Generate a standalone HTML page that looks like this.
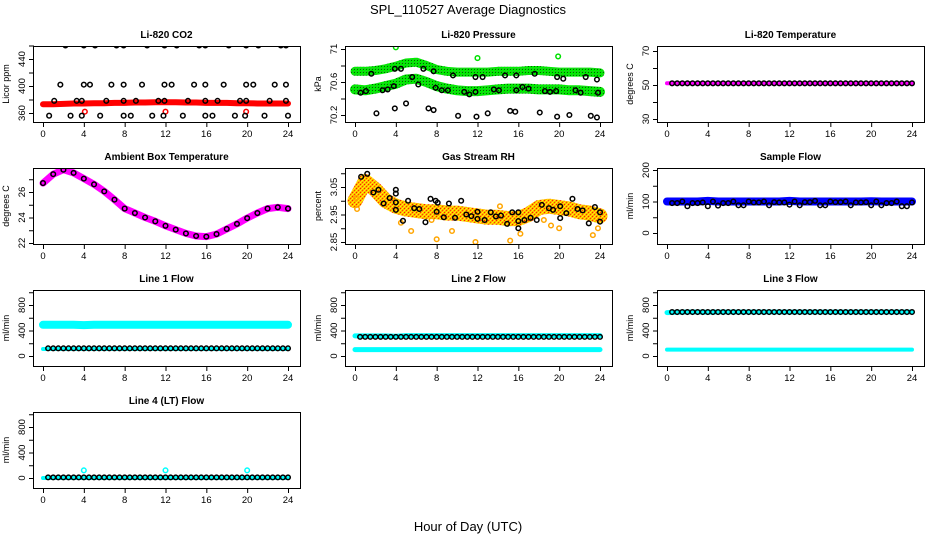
<!DOCTYPE html>
<html><head><meta charset="utf-8">
<style>
html,body{margin:0;padding:0;background:#fff;}
svg{display:block;font-family:"Liberation Sans",sans-serif;}
</style></head>
<body>
<svg id="chart" width="936" height="540" viewBox="0 0 936 540">
<defs>
<pattern id="rhpat" width="4" height="4" patternUnits="userSpaceOnUse">
<rect width="4" height="4" fill="#ffb000"/>
<rect x="0" y="0" width="1" height="1" fill="#ff2000"/>
<rect x="2" y="2" width="1" height="1" fill="#ff4000"/>
<rect x="2" y="0" width="1" height="1" fill="#ffff00"/>
<rect x="0" y="2" width="1" height="1" fill="#ffff00"/>
<rect x="1" y="1" width="1" height="1" fill="#ffe000"/>
<rect x="3" y="3" width="1" height="1" fill="#ffe000"/>
</pattern>
<pattern id="grpat" width="3" height="3" patternUnits="userSpaceOnUse">
<rect width="3" height="3" fill="#00ee00"/>
<rect x="0" y="0" width="1" height="1" fill="#006000"/>
<rect x="2" y="2" width="1" height="1" fill="#40a040"/>
</pattern>
</defs>
<text x="468" y="14" text-anchor="middle" font-size="13">SPL_110527  Average Diagnostics</text>
<text x="468" y="531" text-anchor="middle" font-size="13">Hour of Day (UTC)</text>
</svg>
<script>
// ---------- data ----------
const hoursH = [0,1,2,3,4,5,6,7,8,9,10,11,12,13,14,15,16,17,18,19,20,21,22,23,24];
const hoursHalf = [0.5,1,1.5,2,2.5,3,3.5,4,4.5,5,5.5,6,6.5,7,7.5,8,8.5,9,9.5,10,10.5,11,11.5,12,12.5,13,13.5,14,14.5,15,15.5,16,16.5,17,17.5,18,18.5,19,19.5,20,20.5,21,21.5,22,22.5,23,23.5,24];
const xTicks = [0,4,8,12,16,20,24];

// Li-820 CO2
const co2Band = [373,373,373.5,374,374,374.5,374.5,375,375,375.5,375.5,376,376,376,375.5,375.5,375,375,375,374.5,374.5,374,374,374,374];
const co2BlackHours = [2.2,4.0,5.1,7.2,7.9,10.2,11.9,13.1,15.3,15.9,18.2,19.9,21.1,23.3,23.8, 1.7,4.0,4.6,6.7,7.9,9.7,11.9,12.6,14.8,15.9,17.7,19.9,20.6,22.7,23.8, 1.1,3.3,3.8,6.2,7.9,9.1,11.3,11.9,14.2,15.9,17.1,19.3,19.9,22.2,23.8, 0.6,2.7,3.8,5.6,7.9,8.6,10.7,11.8,13.7,15.9,16.6,18.8,19.8,21.7,24];
const co2BlackVals = [460,460,460,460,460,460,460,460,460,460,460,460,460,460,460, 402,402,402,402,402,402,402,402,402,402,402,402,402,402,402, 378,378,378,378,378,378,378,378,378,378,378,378,378,378,378, 356,356,356,356,356,356,356,356,356,356,356,356,356,356,356];
const co2RedHours = [4.1,12.0,19.9];
const co2RedVals = [362,362,362];

// Li-820 Pressure
const presUpper = [70.73,70.73,70.74,70.76,70.79,70.83,70.84,70.8,70.75,70.73,70.72,70.72,70.72,70.72,70.73,70.73,70.73,70.74,70.74,70.73,70.72,70.72,70.72,70.72,70.71];
const presLower = [70.51,70.5,70.52,70.55,70.58,70.63,70.64,70.6,70.55,70.52,70.5,70.49,70.49,70.5,70.51,70.52,70.52,70.52,70.51,70.51,70.51,70.5,70.5,70.49,70.48];
const presBlackHours = [0.55,1.07,1.6,2.1,2.7,3.2,3.8,3.9,3.9,4.5,5.0,5.6,6.2,6.7,7.2,7.7,7.7,7.9,8.5,9.1,9.6,10.1,10.7,11.2,11.8,11.8,11.9,12.5,13.0,13.6,14.1,14.7,15.2,15.7,15.8,15.8,16.4,17.0,17.6,18.1,18.6,19.1,19.7,19.8,19.8,20.4,21.0,21.6,22.1,22.6,23.1,23.7,23.7,23.8];
const presBlackVals = [70.47,70.49,70.7,70.22,70.5,70.51,70.55,70.76,70.28,70.76,70.34,70.66,70.57,70.76,70.28,70.73,70.26,70.53,70.5,70.5,70.68,70.19,70.48,70.45,70.48,70.66,70.18,70.66,70.22,70.51,70.5,70.68,70.25,70.24,70.68,70.5,70.54,70.52,70.7,70.23,70.49,70.48,70.49,70.18,70.66,70.64,70.2,70.5,70.47,70.66,70.19,70.17,70.63,70.47];
const presGreenHours = [4.0,12.0,19.9];
const presGreenVals = [71.02,70.89,70.91];

// Li-820 Temperature
const tempBand = [51,51,51,51,51,51,51,51,51,51,51,51,51,51,51,51,51,51,51,51,51,51,51,51,51];
const tempBlack = [51,51,51,51,51,51,51,51,51,51,51,51,51,51,51,51,51,51,51,51,51,51,51,51,51,51,51,51,51,51,51,51,51,51,51,51,51,51,51,51,51,51,51,51,51,51,51,51];

// Ambient box temperature
const ambBand = [26.7,27.4,27.75,27.5,27.05,26.6,26.05,25.4,24.7,24.35,24.0,23.7,23.35,23.05,22.75,22.55,22.5,22.7,23.1,23.5,23.95,24.35,24.7,24.8,24.7];

// Gas stream RH
const rhBand = [3.0,3.07,3.04,3.0,2.98,2.97,2.965,2.96,2.96,2.955,2.955,2.95,2.945,2.94,2.94,2.935,2.935,2.95,2.975,2.98,2.975,2.97,2.96,2.955,2.945];
const rhBlackHours = [0.6,1.2,1.8,2.3,2.8,3.4,4.0,4.0,4.0,4.0,4.7,5.2,5.8,6.3,6.9,7.4,7.9,8.1,8.0,8.7,9.2,9.8,10.4,10.9,11.4,12.0,12.0,12.7,13.3,13.8,14.3,14.9,15.4,16.0,16.0,16.0,16.6,17.2,17.8,18.3,19.0,19.4,20.1,20.1,20.7,21.3,21.8,22.3,22.9,23.5,24,24];
const rhBlackVals = [3.087,3.098,3.03,3.04,2.99,3.01,2.994,3.04,3.026,2.967,2.927,3.0,2.973,2.97,2.922,3.007,3.0,2.993,2.96,2.94,2.99,2.938,3.0,2.95,2.944,2.96,2.934,2.93,2.958,2.943,2.946,2.916,2.958,2.958,2.926,2.9,2.93,2.938,2.93,2.985,2.973,2.967,2.98,2.937,2.955,3.007,2.97,2.965,2.918,2.977,2.958,2.924];
const rhOutHours = [0.2,0.1,4.5,5.5,7.5,8.0,9.5,11.8,14.2,15.2,16.2,18.5,19.2,20.0,23.3,23.8];
const rhOutVals = [2.97,3.01,2.92,2.89,2.93,2.86,2.89,2.85,2.98,2.855,2.88,2.93,2.91,2.9,2.875,2.9];

// Sample flow
const sampleBand = [100,100,100,100,102,100,100,100,100,100,100,100,102,100,100,100,100,100,100,100,101,100,100,100,100];
const sampleBlack = [95,95,100,85,95,95,97,85,100,87,95,95,100,88,88,100,97,97,100,88,98,97,97,90,100,88,98,98,102,88,88,100,98,98,100,88,97,97,98,88,100,88,95,95,100,85,85,97];

// Line flows
const line1High = [490,490,490,490,485,490,490,490,490,490,490,490,490,490,490,490,490,490,490,490,490,490,490,490,490];
const line1Low = [110,110,110,110,110,110,110,110,110,110,110,110,110,110,110,110,110,110,110,110,110,110,110,110,110];
const line1Black = [120,120,120,120,120,120,120,120,120,120,120,120,120,120,120,120,120,120,120,120,120,120,120,120,120,120,120,120,120,120,120,120,120,120,120,120,120,120,120,120,120,120,120,120,120,120,120,120];
const line2High = [315,315,315,315,310,320,320,320,320,320,320,320,320,320,320,320,320,320,320,320,320,320,320,320,320];
const line2Low = [100,100,100,100,100,100,100,100,100,100,100,100,100,100,100,100,100,100,100,100,100,100,100,100,100];
const line2Black = [300,300,300,300,300,300,300,300,300,300,300,300,300,300,300,300,300,300,300,300,300,300,300,300,300,300,300,300,300,300,300,300,300,300,300,300,300,300,300,300,300,300,300,300,300,300,300,300];
const line3High = [680,685,690,690,685,690,690,690,690,690,690,690,690,690,690,690,690,690,690,690,690,690,690,690,690];
const line3Low = [100,100,100,100,100,100,100,100,100,100,100,100,100,100,100,100,100,100,100,100,100,100,100,100,100];
const line3Black = [690,690,690,690,690,690,690,690,690,690,690,690,690,690,690,690,690,690,690,690,690,690,690,690,690,690,690,690,690,690,690,690,690,690,690,690,690,690,690,690,690,690,690,690,690,690,690,690];
const line4Band = [0,0,0,0,0,0,0,0,0,0,0,0,0,0,0,0,0,0,0,0,0,0,0,0,0];
const line4Black = [10,10,10,10,10,10,10,10,10,10,10,10,10,10,10,10,10,10,10,10,10,10,10,10,10,10,10,10,10,10,10,10,10,10,10,10,10,10,10,10,10,10,10,10,10,10,10,10];
const line4OutHours = [4,12,20];
const line4OutVals = [120,120,120];

// ---------- drawing ----------
const svg = document.getElementById('chart');
const NS = 'http://www.w3.org/2000/svg';
function mk(tag, attrs, parent){
  const e = document.createElementNS(NS, tag);
  for (const k in attrs) e.setAttribute(k, attrs[k]);
  (parent||svg).appendChild(e);
  return e;
}
function panel(name, title, col, row, v1, o1, v2, o2, yTicks, yLabels, yTitle){
  const left = 33 + 312*col, top = 46 + 122*row, w = 267, h = 76;
  const g = mk('g', {});
  
  
  const p = {g, left, top, w, h,
    x: t => left + 10 + t*(245/24),
    y: v => top + o1 + (v - v1)*(o2 - o1)/(v2 - v1)};
  const clip = mk('clipPath', {id:'clip-'+name}, g);
  mk('rect', {x:left, y:top, width:w, height:h}, clip);
  p.plot = mk('g', {'clip-path':'url(#clip-'+name+')'}, g);
  
  
  const box = mk('rect', {x:left+0.5, y:top+0.5, width:w, height:h, fill:'none', stroke:'#000', 'stroke-width':1}, g);
  
  
  const tt = mk('text', {x:left+w/2, y:top-8, 'text-anchor':'middle', 'font-size':10, 'font-weight':'bold'}, g);
  tt.textContent = title;
  
  
  const xa = mk('g', {}, g);
  
  
  mk('line', {x1:p.x(0), x2:p.x(24), y1:top+h+0.5, y2:top+h+0.5, stroke:'#000'}, xa);
  xTicks.forEach(t => {
    mk('line', {x1:p.x(t)+0.5, x2:p.x(t)+0.5, y1:top+h, y2:top+h+5, stroke:'#000'}, xa);
    const l = mk('text', {x:p.x(t), y:top+h+15, 'text-anchor':'middle', 'font-size':9.5}, xa);
    l.textContent = t;
  });
  const ya = mk('g', {}, g);
  
  
  mk('line', {x1:left+0.5, x2:left+0.5, y1:p.y(yTicks[0]), y2:p.y(yTicks[yTicks.length-1]), stroke:'#000'}, ya);
  yTicks.forEach(t => {
    mk('line', {x1:left-4, x2:left, y1:p.y(t)+0.5, y2:p.y(t)+0.5, stroke:'#000'}, ya);
  });
  yLabels.forEach(t => {
    const yy = p.y(t);
    const l = mk('text', {x:left-8, y:yy, 'text-anchor':'middle', 'font-size':9.5, transform:'rotate(-90 '+(left-8)+' '+yy+')'}, ya);
    l.textContent = t;
  });
  const yt = mk('text', {x:left-24, y:top+h/2, 'text-anchor':'middle', 'font-size':9, transform:'rotate(-90 '+(left-24)+' '+(top+h/2)+')'}, g);
  yt.textContent = yTitle;
  
  
  return p;
}
function band(p, hrs, vals, color, width, name){
  const pts = hrs.map((t,i) => p.x(t).toFixed(1)+','+p.y(vals[i]).toFixed(1)).join(' ');
  const l = mk('polyline', {points:pts, fill:'none', stroke:color, 'stroke-width':width, 'stroke-linejoin':'round', 'stroke-linecap':'round'}, p.plot);
  
  
}
function circles(p, hrs, vals, color, name){
  const g = mk('g', {}, p.plot);
  
  
  hrs.forEach((t,i) => {
    mk('circle', {cx:p.x(t), cy:p.y(vals[i]), r:2.3, fill:'none', stroke:color, 'stroke-width':1.5}, g);
  });
}

let p = panel('co2', 'Li-820 CO2', 0, 0, 360, 67, 440, 13, [360,380,400,420,440,460], [360,400,440], 'Licor ppm');
band(p, hoursH, co2Band, '#ff0000', 6, 'co2-red-band');
circles(p, co2RedHours, co2RedVals, '#ff0000', 'co2-red-points');
circles(p, co2BlackHours, co2BlackVals, '#000', 'co2-black-points');

p = panel('pressure', 'Li-820 Pressure', 1, 0, 70.2, 69, 71.0, 3, [70.2,70.4,70.6,70.8,71.0], [70.2,70.6,71.0], 'kPa');
band(p, hoursH, presUpper, 'url(#grpat)', 9, 'pressure-upper-band');
band(p, hoursH, presLower, 'url(#grpat)', 10, 'pressure-lower-band');
circles(p, presGreenHours, presGreenVals, '#00e000', 'pressure-green-points');
circles(p, presBlackHours, presBlackVals, '#000', 'pressure-black-points');

p = panel('li-temp', 'Li-820 Temperature', 2, 0, 30, 73, 70, 5, [30,40,50,60,70], [30,50,70], 'degrees C');
band(p, hoursH, tempBand, '#ff00ff', 4, 'li-temp-band');
circles(p, hoursHalf, tempBlack, '#000', 'li-temp-black-points');

p = panel('ambient', 'Ambient Box Temperature', 0, 1, 22, 75, 26, 24, [22,23,24,25,26,27], [22,24,26], 'degrees C');
band(p, hoursH, ambBand, '#ff00ff', 7, 'ambient-band');
circles(p, hoursH, ambBand, '#000', 'ambient-black-points');

p = panel('rh', 'Gas Stream RH', 1, 1, 2.85, 74, 3.05, 19, [2.85,2.9,2.95,3.0,3.05,3.1], [2.85,2.95,3.05], 'percent');
band(p, hoursH, rhBand, 'url(#rhpat)', 15, 'rh-band');
circles(p, rhOutHours, rhOutVals, '#ffa500', 'rh-orange-points');
circles(p, rhBlackHours, rhBlackVals, '#000', 'rh-black-points');

p = panel('sample-flow', 'Sample Flow', 2, 1, 0, 65, 200, 2, [0,50,100,150,200], [0,100,200], 'ml/min');
band(p, hoursH, sampleBand, '#0000ff', 8, 'sample-flow-band');
circles(p, hoursHalf, sampleBlack, '#000', 'sample-flow-black-points');

const fT = [0,200,400,600,800,1000], fL = [0,400,800];
p = panel('line1', 'Line 1 Flow', 0, 2, 0, 66, 800, 15, fT, fL, 'ml/min');
band(p, hoursH, line1High, '#00ffff', 8, 'line1-cyan-high');
band(p, hoursH, line1Low, '#00ffff', 4, 'line1-cyan-low');
circles(p, hoursHalf, line1Black, '#000', 'line1-black-points');

p = panel('line2', 'Line 2 Flow', 1, 2, 0, 66, 800, 15, fT, fL, 'ml/min');
band(p, hoursH, line2High, '#00ffff', 5, 'line2-cyan-high');
band(p, hoursH, line2Low, '#00ffff', 5, 'line2-cyan-low');
circles(p, hoursHalf, line2Black, '#000', 'line2-black-points');

p = panel('line3', 'Line 3 Flow', 2, 2, 0, 66, 800, 15, fT, fL, 'ml/min');
band(p, hoursH, line3High, '#00ffff', 5, 'line3-cyan-high');
band(p, hoursH, line3Low, '#00ffff', 4, 'line3-cyan-low');
circles(p, hoursHalf, line3Black, '#000', 'line3-black-points');

p = panel('line4', 'Line 4 (LT) Flow', 0, 3, 0, 66, 800, 15, fT, fL, 'ml/min');
band(p, hoursH, line4Band, '#00ffff', 4, 'line4-cyan-band');
circles(p, line4OutHours, line4OutVals, '#00ffff', 'line4-cyan-points');
circles(p, hoursHalf, line4Black, '#000', 'line4-black-points');
</script>
</body></html>
